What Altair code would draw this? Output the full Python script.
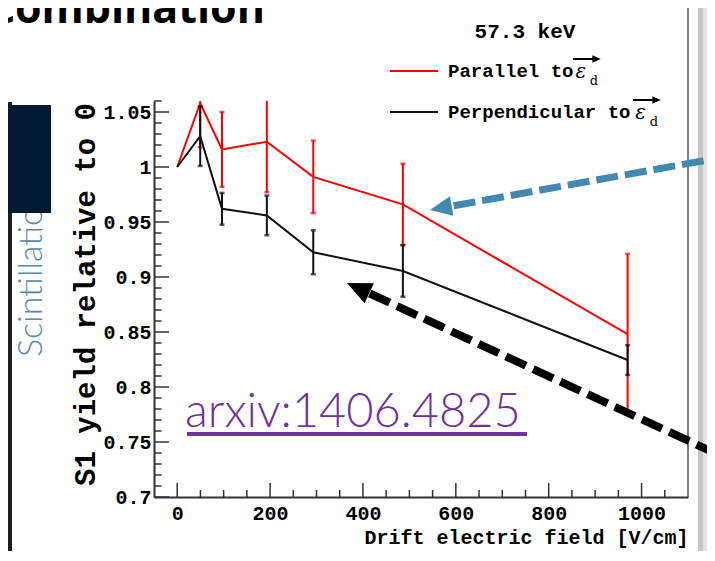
import altair as alt
import pandas as pd

# ---------------- data ----------------
field = [0, 49.5, 96.4, 193, 293, 486, 970]
parallel = [1.0, 1.058, 1.016, 1.023, 0.991, 0.966, 0.848]
parallel_err = [0.0, 0.040, 0.034, 0.046, 0.033, 0.037, 0.073]
perpendicular = [1.0, 1.028, 0.962, 0.956, 0.9225, 0.9055, 0.8245]
perpendicular_err = [0.0, 0.027, 0.0145, 0.018, 0.020, 0.0235, 0.0135]
series = ["Parallel", "Perpendicular"]
x_labels = [0, 200, 400, 600, 800, 1000]
y_labels = [0.7, 0.75, 0.8, 0.85, 0.9, 0.95, 1.0, 1.05]

X_DOMAIN = [-50, 1100]
Y_DOMAIN = [0.7, 1.06]
W, H = 534, 396
MONO = "Liberation Mono"

xs = alt.Scale(domain=X_DOMAIN, nice=False, zero=False)
ys = alt.Scale(domain=Y_DOMAIN, nice=False, zero=False)

x_axis = alt.Axis(values=x_labels, format="d", ticks=False, tickSize=0, grid=False,
                  domainColor="#333", domainWidth=2,
                  labelFont=MONO, labelFontSize=20, labelFontWeight="bold", labelColor="#000",
                  labelPadding=6, labelOverlap=False, labelFlush=False,
                  title="Drift electric field [V/cm]", titleFont=MONO, titleFontSize=20,
                  titleFontWeight="bold", titleColor="#000", titleX=W, titleY=46,
                  titleAlign="right", titleBaseline="alphabetic")
y_axis = alt.Axis(values=y_labels, format=".2~f", ticks=False, tickSize=0, grid=False,
                  domainColor="#333", domainWidth=2,
                  labelFont=MONO, labelFontSize=20, labelFontWeight="bold", labelColor="#000",
                  labelPadding=3, labelOverlap=False, labelFlush=False, labelBaseline="middle",
                  title="S1 yield relative to 0", titleFont=MONO, titleFontSize=29,
                  titleFontWeight="bold", titleColor="#000", titleX=-69, titleY=193,
                  titleAngle=270, titleAlign="center", titleBaseline="middle")


def X(f):
    return alt.X(f, type="quantitative", scale=xs, axis=x_axis)


def Y(f):
    return alt.Y(f, type="quantitative", scale=ys, axis=y_axis)


# ---------------- data tables ----------------
df = pd.DataFrame({
    "field": field * 2,
    "value": parallel + perpendicular,
    "err": parallel_err + perpendicular_err,
    "series": [series[0]] * len(field) + [series[1]] * len(field),
})
df["lo"] = df["value"] - df["err"]
df["hi"] = df["value"] + df["err"]
bars = df[df["err"] > 0]
caps = pd.concat([bars.assign(end=bars["lo"]), bars.assign(end=bars["hi"])])

colors = {"Parallel": "#ff0000", "Perpendicular": "#111111"}

# inward ROOT-style ticks
y_major = y_labels
y_minor = [round(0.70 + 0.01 * i, 2) for i in range(37) if i % 5 != 0]
x_major = x_labels
x_minor = [50 * i for i in range(1, 22) if i % 4 != 0]
yt = pd.DataFrame({"v": y_major + y_minor, "a": -50.0,
                   "b": [-50 + 32.3] * len(y_major) + [-50 + 16.2] * len(y_minor)})
xt = pd.DataFrame({"v": x_major + x_minor, "a": 0.70,
                   "b": [0.70 + 0.0127] * len(x_major) + [0.70 + 0.0064] * len(x_minor)})

# ---------------- slide decorations (positions in axis units) ----------------
strips = pd.DataFrame({"x": [1121.5, 1132.3, -400.0], "x2": [1132.3, 1175.0, -355.8],
                       "y": [1.16, 1.16, 1.0591], "y2": [0.62, 0.62, 0.62],
                       "c": ["#c6c6c6", "#e4e4e4", "#1e1e1e"]})
navy = pd.DataFrame({"x": [-400.0], "x2": [-271.8], "y": [1.0564], "y2": [0.9582]})
frame = pd.DataFrame({"x": [1100], "x2": [1100], "y": [1.16], "y2": [0.70]})

legend_lines = pd.DataFrame({"x": [458.3, 458.3], "x2": [561.7, 561.7], "y": [1.0873, 1.05],
                             "s": series})
vec_stem = pd.DataFrame({"x": [852.3, 981.6], "x2": [897.6, 1026.8], "y": [1.0982, 1.0609]})
vec_head = pd.DataFrame({"x": [903.0, 1032.3], "y": [1.0982, 1.0609]})


def txt(rows, **kw):
    d = pd.DataFrame(rows, columns=["t", "x", "y"])
    return alt.Chart(d).mark_text(**kw).encode(x=X("x"), y=Y("y"), text="t:N")


HEAD = "M0,-1L0.9,1L-0.9,1Z"

layers = []
layers.append(alt.Chart(strips).mark_rect().encode(
    x=X("x"), x2="x2", y=Y("y"), y2="y2", color=alt.Color("c:N", scale=None)))
layers.append(txt([["Scintillation", -291.2, 0.8273]], angle=270, align="left",
                  baseline="alphabetic", font="Lato", fontSize=34, fontWeight=300, color="#5a88ab"))
layers.append(alt.Chart(navy).mark_rect(color="#001a33").encode(
    x=X("x"), x2="x2", y=Y("y"), y2="y2"))
layers.append(alt.Chart(frame).mark_rule(color="#555", strokeWidth=1.5).encode(
    x=X("x"), x2="x2", y=Y("y"), y2="y2"))
layers.append(alt.Chart(yt).mark_rule(color="#333", strokeWidth=1.5).encode(
    y=Y("v"), x=X("a"), x2="b"))
layers.append(alt.Chart(xt).mark_rule(color="#333", strokeWidth=1.5).encode(
    x=X("v"), y=Y("a"), y2="b"))

for s in series:
    layers.append(alt.Chart(df[df["series"] == s]).mark_line(
        color=colors[s], strokeWidth=2, clip=True).encode(x=X("field"), y=Y("value")))
for s in series:
    layers.append(alt.Chart(bars[bars["series"] == s]).mark_rule(
        color=colors[s], strokeWidth=2, clip=True).encode(x=X("field"), y=Y("lo"), y2="hi"))
    layers.append(alt.Chart(caps[caps["series"] == s]).mark_tick(
        orient="horizontal", size=5, thickness=2.5, color=colors[s], clip=True).encode(
        x=X("field"), y=Y("end")))

# legend
layers.append(txt([["57.3 keV", 749, 1.1227]], align="center", baseline="middle",
                  font=MONO, fontSize=21, fontWeight="bold", color="#000"))
for s in series:
    layers.append(alt.Chart(legend_lines[legend_lines["s"] == s]).mark_rule(
        color=colors[s], strokeWidth=2).encode(x=X("x"), x2="x2", y=Y("y")))
layers.append(txt([["Parallel to", 583.2, 1.0873], ["Perpendicular to", 583.2, 1.05]],
                  align="left", baseline="middle", font=MONO, fontSize=19,
                  fontWeight="bold", color="#000"))
layers.append(txt([["ε", 869.0, 1.0809], ["ε", 997.7, 1.0432]], align="center",
                  baseline="alphabetic", font="DejaVu Serif", fontSize=20, fontStyle="italic",
                  color="#000"))
layers.append(alt.Chart(vec_stem).mark_rule(color="#000", strokeWidth=2).encode(
    x=X("x"), x2="x2", y=Y("y")))
layers.append(alt.Chart(vec_head).mark_point(shape=HEAD, filled=True, opacity=1, size=70,
                                             angle=90, color="#000", strokeWidth=0).encode(
    x=X("x"), y=Y("y")))
layers.append(txt([["d", 897.5, 1.0745], ["d", 1026.7, 1.0373]], align="center",
                  baseline="alphabetic", font="DejaVu Serif", fontSize=13, color="#000"))

# arxiv reference
purple = "#7030a0"
layers.append(txt([["arxiv:1406.4825", 16.8, 0.7636]], align="left", baseline="alphabetic",
                  font="Lato", fontSize=47, fontWeight=300, color=purple))
underline = pd.DataFrame({"x": [21.1], "x2": [753.2], "y": [0.7573]})
layers.append(alt.Chart(underline).mark_rule(color=purple, strokeWidth=4).encode(
    x=X("x"), x2="x2", y=Y("y")))

# dashed arrows
blue = "#4189b1"
blue_line = pd.DataFrame({"x": [595.2], "x2": [1190.3], "y": [0.9648], "y2": [1.010]})
blue_head = pd.DataFrame({"x": [567.6], "y": [0.9627]})
black_line = pd.DataFrame({"x": [414.6], "x2": [1190.3], "y": [0.885], "y2": [0.7336]})
black_head = pd.DataFrame({"x": [389.6], "y": [0.8899]})
layers.append(alt.Chart(blue_line).mark_rule(color=blue, strokeWidth=7, strokeDash=[22, 7],
                                             strokeCap="butt").encode(
    x=X("x"), x2="x2", y=Y("y"), y2="y2"))
layers.append(alt.Chart(blue_head).mark_point(shape=HEAD, filled=True, opacity=1, size=484,
                                              angle=260, color=blue, strokeWidth=0).encode(
    x=X("x"), y=Y("y")))
layers.append(alt.Chart(black_line).mark_rule(color="#000", strokeWidth=8, strokeDash=[22, 8],
                                              strokeCap="butt").encode(
    x=X("x"), x2="x2", y=Y("y"), y2="y2"))
layers.append(alt.Chart(black_head).mark_point(shape=HEAD, filled=True, opacity=1, size=600,
                                               angle=295, color="#000", strokeWidth=0).encode(
    x=X("x"), y=Y("y")))

# slide title fragment
layers.append(txt([["combination", 189.0, 1.1309]], align="right", baseline="alphabetic",
                  font="Open Sans", fontSize=43, fontWeight="bold", color="#000"))

chart = alt.layer(*layers).properties(
    width=W, height=H,
    autosize=alt.AutoSizeParams(type="none"),
    padding={"left": 146, "top": 93, "right": 19, "bottom": 54},
    background="white",
).configure_view(stroke=None)

chart.save("out.html", embed_options={"renderer": "svg", "actions": False})
